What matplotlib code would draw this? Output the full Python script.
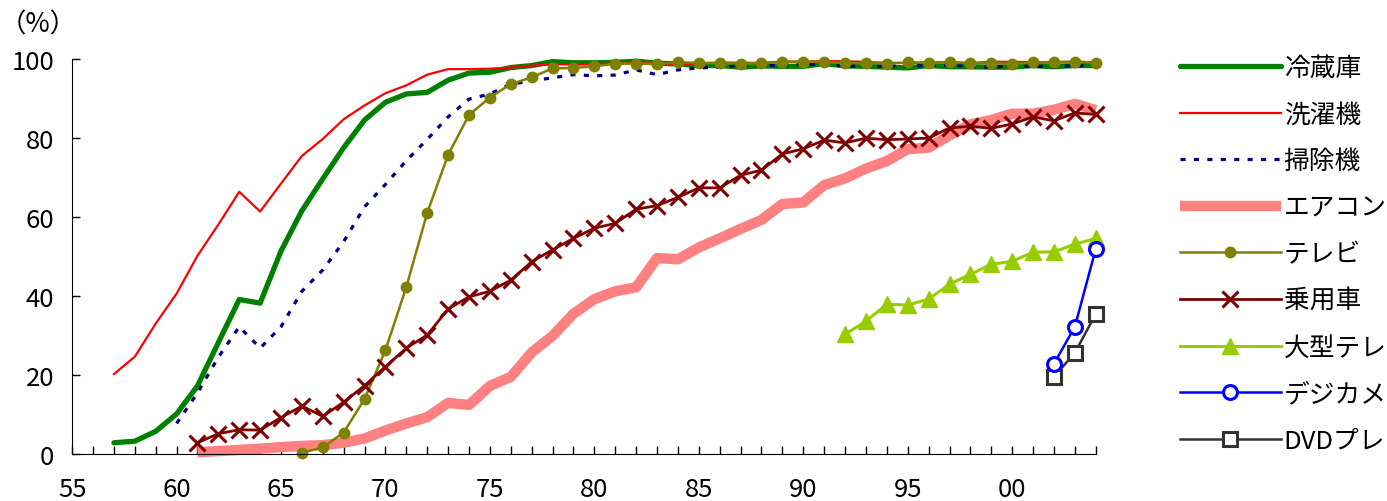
import numpy as np
import matplotlib
matplotlib.use('Agg')
import matplotlib.pyplot as plt

plt.rcParams['font.family'] = ['Noto Sans CJK JP', 'DejaVu Sans']

# years are counted from 1900 (57 = 1957 ... 104 = 2004)
yr_fridge = list(range(57, 105))
fridge = [2.8, 3.2, 5.7, 10.1, 17.2, 28.2, 39.1, 38.2, 51.4, 61.6, 69.7, 77.6, 84.6, 89.1,
          91.2, 91.6, 94.7, 96.5, 96.7, 97.9, 98.4, 99.4, 99.1, 99.1, 99.2, 99.5, 99.0, 98.8,
          98.4, 98.4, 98.0, 98.3, 98.2, 98.2, 98.9, 98.3, 98.2, 98.0, 97.8, 98.4, 98.1, 98.1,
          98.0, 98.0, 98.4, 98.1, 98.4, 98.4]

yr_washer = list(range(57, 105))
washer = [20.2, 24.6, 33.0, 40.6, 50.2, 58.1, 66.4, 61.4, 68.5, 75.5, 79.8, 84.8, 88.3, 91.4,
          93.4, 96.1, 97.5, 97.5, 97.6, 97.9, 98.4, 98.7, 98.7, 98.8, 98.9, 99.2, 98.9, 98.8,
          98.9, 99.2, 99.1, 99.1, 99.4, 99.4, 99.5, 99.5, 99.3, 99.1, 99.0, 99.2, 99.2, 99.0,
          99.4, 99.3, 99.3, 99.1, 99.4, 99.2]

yr_vacuum = list(range(60, 105))
vacuum = [7.7, 15.4, 24.5, 32.2, 26.8, 32.2, 41.2, 46.6, 53.8, 62.6, 68.3, 74.3, 79.7, 85.4,
          89.9, 91.2, 93.7, 94.5, 95.3, 96.1, 95.8, 96.0, 97.3, 96.1, 97.3, 97.8, 98.0, 98.4,
          98.3, 98.5, 98.7, 98.8, 98.3, 98.2, 98.3, 98.3, 98.4, 98.5, 98.1, 98.0, 98.3, 98.2,
          98.1, 98.4, 98.3]

yr_aircon = list(range(61, 105))
aircon = [0.4, 0.7, 1.0, 1.3, 1.7, 2.0, 2.2, 2.8, 3.9, 5.9, 7.7, 9.3, 12.9, 12.4, 17.2, 19.5,
          25.7, 29.9, 35.5, 39.2, 41.2, 42.2, 49.6, 49.3, 52.3, 54.6, 57.0, 59.3, 63.3, 63.7,
          68.1, 69.8, 72.3, 74.2, 77.2, 77.6, 80.7, 83.5, 84.6, 86.2, 86.2, 87.2, 88.7, 87.1]

yr_tv = list(range(66, 105))
tv = [0.3, 1.6, 5.4, 13.9, 26.3, 42.3, 61.1, 75.8, 85.9, 90.3, 93.7, 95.4, 97.7, 97.8, 98.2,
      98.9, 98.9, 98.8, 99.2, 99.1, 99.0, 98.9, 99.0, 99.3, 99.4, 99.3, 99.0, 99.0, 98.9,
      99.2, 99.1, 99.3, 99.0, 99.1, 98.8, 99.2, 99.3, 99.4, 99.1]

yr_car = list(range(61, 105))
car = [2.8, 5.1, 6.1, 6.0, 9.2, 12.1, 9.5, 13.1, 17.3, 22.1, 26.8, 30.1, 36.7, 39.8, 41.2,
       44.0, 48.7, 51.7, 54.6, 57.2, 58.4, 62.0, 62.9, 65.0, 67.4, 67.4, 70.6, 71.9, 76.0,
       77.3, 79.5, 78.8, 80.0, 79.6, 79.8, 80.0, 82.6, 83.0, 82.5, 83.6, 85.4, 84.4, 86.4, 86.0]

yr_bigtv = list(range(92, 105))
bigtv = [30.3, 33.6, 37.9, 37.7, 39.2, 43.0, 45.5, 48.0, 48.8, 51.1, 51.2, 53.1, 54.6]

yr_camera = [102, 103, 104]
camera = [22.8, 32.2, 51.9]

yr_dvd = [102, 103, 104]
dvd = [19.5, 25.6, 35.4]

xticks = list(range(55, 101, 5))
xticklabels = ['55', '60', '65', '70', '75', '80', '85', '90', '95', '00']

fig = plt.figure(figsize=(13.87, 5.02), dpi=100)
ax = fig.add_axes([0.052, 0.094, 0.738, 0.786])

ax.plot(yr_fridge, fridge, color='#008000', lw=3.8, label='冷蔵庫', clip_on=False,
        solid_capstyle='round')
ax.plot(yr_washer, washer, color='#ff0000', lw=1.6, label='洗濯機', clip_on=False)
ax.plot(yr_vacuum, vacuum, color='#000080', lw=2.3, ls=(0, (1.6, 2.6)), label='掃除機',
        clip_on=False)
ax.plot(yr_aircon, aircon, color='#ff8080', lw=7.5, label='エアコン', clip_on=False,
        solid_capstyle='butt')
ax.plot(yr_tv, tv, color='#808000', lw=1.8, marker='o', ms=7.5, label='テレビ', clip_on=False)
ax.plot(yr_car, car, color='#800000', lw=2.0, marker='x', ms=11, mew=2.2, label='乗用車',
        clip_on=False)
ax.plot(yr_bigtv, bigtv, color='#99cc00', lw=2.2, marker='^', ms=12, label='大型テレ',
        clip_on=False)
ax.plot(yr_camera, camera, color='#0000ff', lw=1.8, marker='o', ms=10, mfc='white',
        mew=2.2, label='デジカメ', clip_on=False, zorder=3)
ax.plot(yr_dvd, dvd, color='#333333', lw=1.8, marker='s', ms=10, mfc='white', mew=2.2,
        label='DVDプレ', clip_on=False, zorder=2.5)

ax.set_xlim(55, 104)
ax.set_ylim(0, 100)
ax.set_xticks(xticks)
ax.set_xticklabels(xticklabels)
ax.set_xticks(range(55, 105), minor=True)
ax.set_yticks(range(0, 101, 20))
for s in ['top', 'right']:
    ax.spines[s].set_visible(False)
ax.tick_params(axis='both', which='both', direction='in', length=6, width=1,
               labelsize=18.5)
ax.tick_params(axis='x', which='major', pad=16)
ax.tick_params(axis='y', pad=13)

fig.text(0.0275, 0.951, '（%）', ha='center', va='center', fontsize=19)

ax.legend(loc='upper left', bbox_to_anchor=(0.851, 0.888), bbox_transform=fig.transFigure,
          frameon=False, fontsize=18.5, handlelength=3.9, handletextpad=0.12,
          labelspacing=0.8, borderpad=0, borderaxespad=0)

fig.savefig('out.png', dpi=100)
